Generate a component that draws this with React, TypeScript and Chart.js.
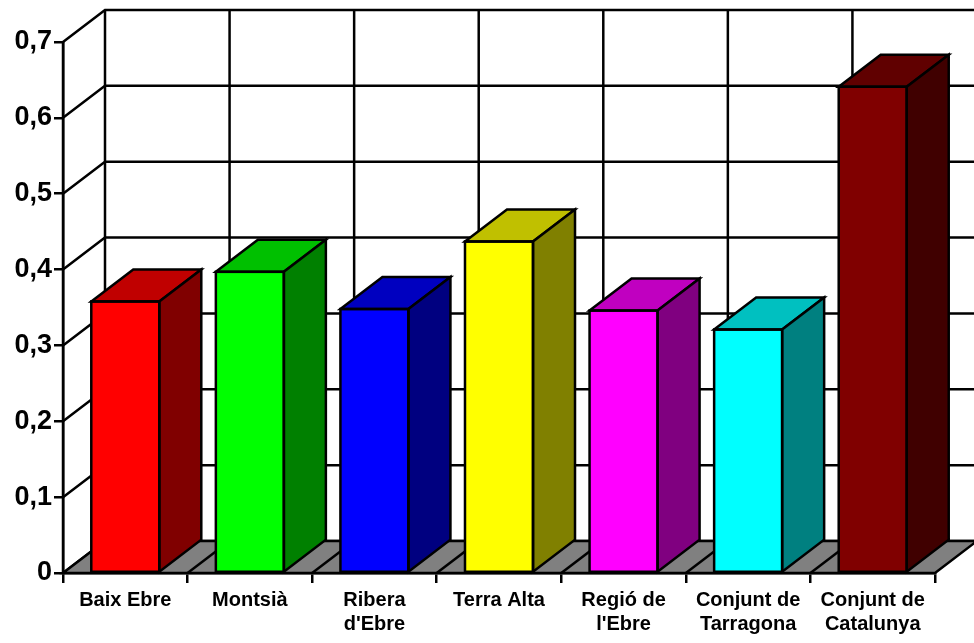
import React, { useEffect, useRef } from 'react';
import { Chart, registerables } from 'chart.js';

Chart.register(...registerables);

const categories: string[][] = [
  ['Baix Ebre'],
  ['Montsià'],
  ['Ribera', "d'Ebre"],
  ['Terra Alta'],
  ['Regió de', "l'Ebre"],
  ['Conjunt de', 'Tarragona'],
  ['Conjunt de', 'Catalunya'],
];
const values: number[] = [0.358, 0.397, 0.348, 0.437, 0.346, 0.321, 0.641];
const frontColors: string[] = ['#FF0000', '#00FF00', '#0000FF', '#FFFF00', '#FF00FF', '#00FFFF', '#800000'];
const topColors: string[] = ['#C00000', '#00C000', '#0000C0', '#C0C000', '#C000C0', '#00C0C0', '#600000'];
const sideColors: string[] = ['#800000', '#008000', '#000080', '#808000', '#800080', '#008080', '#400000'];
const yMin = 0;
const yMax = 0.7;
const yStep = 0.1;
const floorColor = '#808080';

const DX = 42;
const DY = 32;
const LW = 2.5;
const FONT = "'Liberation Sans', Arial, sans-serif";

const threeD = {
  id: 'threeD',
  beforeDatasetsDraw(chart: any) {
    const { ctx, chartArea, scales } = chart;
    const x = scales.x;
    const y = scales.y;
    const left = chartArea.left;
    const right = chartArea.right;
    const bottom = y.getPixelForValue(yMin);
    const top = y.getPixelForValue(yMax);
    const n = categories.length;
    ctx.save();
    ctx.strokeStyle = '#000';
    ctx.lineWidth = LW;
    ctx.lineCap = 'butt';
    for (const t of y.ticks) {
      const py = y.getPixelForValue(t.value);
      ctx.beginPath();
      ctx.moveTo(left, py);
      ctx.lineTo(left + DX, py - DY);
      ctx.lineTo(right + DX + 10, py - DY);
      ctx.stroke();
    }
    for (let i = 0; i <= n; i++) {
      const bx = x.getPixelForValue(i - 0.5) + DX;
      ctx.beginPath();
      ctx.moveTo(bx, top - DY);
      ctx.lineTo(bx, bottom - DY);
      ctx.stroke();
    }
    ctx.beginPath();
    ctx.moveTo(left, top);
    ctx.lineTo(left, bottom);
    ctx.stroke();
    ctx.beginPath();
    ctx.moveTo(left, bottom);
    ctx.lineTo(right, bottom);
    ctx.lineTo(right + DX, bottom - DY);
    ctx.lineTo(left + DX, bottom - DY);
    ctx.closePath();
    ctx.fillStyle = floorColor;
    ctx.fill();
    ctx.stroke();
    for (let i = 1; i < n; i++) {
      const bx = x.getPixelForValue(i - 0.5);
      ctx.beginPath();
      ctx.moveTo(bx, bottom);
      ctx.lineTo(bx + DX, bottom - DY);
      ctx.stroke();
    }
    ctx.restore();
  },
  afterDatasetsDraw(chart: any) {
    const { ctx } = chart;
    const meta = chart.getDatasetMeta(0);
    ctx.save();
    ctx.strokeStyle = '#000';
    ctx.lineWidth = LW;
    ctx.lineJoin = 'miter';
    meta.data.forEach((bar: any, i: number) => {
      const { x, y, base, width } = bar.getProps(['x', 'y', 'base', 'width'], true);
      const L = x - width / 2;
      const R = x + width / 2;
      ctx.beginPath();
      ctx.moveTo(L, y);
      ctx.lineTo(L + DX, y - DY);
      ctx.lineTo(R + DX, y - DY);
      ctx.lineTo(R, y);
      ctx.closePath();
      ctx.fillStyle = topColors[i];
      ctx.fill();
      ctx.stroke();
      ctx.beginPath();
      ctx.moveTo(R, y);
      ctx.lineTo(R + DX, y - DY);
      ctx.lineTo(R + DX, base - DY);
      ctx.lineTo(R, base);
      ctx.closePath();
      ctx.fillStyle = sideColors[i];
      ctx.fill();
      ctx.stroke();
      ctx.strokeRect(L, y, width, base - y);
    });
    ctx.restore();
  },
};

export default function App() {
  const ref = useRef<HTMLCanvasElement | null>(null);
  useEffect(() => {
    if (!ref.current) return;
    const chart = new Chart(ref.current, {
      type: 'bar',
      data: {
        labels: categories,
        datasets: [
          {
            data: values,
            backgroundColor: frontColors,
            borderColor: '#000',
            borderWidth: 0,
            barPercentage: 0.546,
            categoryPercentage: 1,
          },
        ],
      },
      options: {
        responsive: false,
        animation: false,
        devicePixelRatio: 1,
        layout: { padding: { top: 42, right: 39, left: 0, bottom: 0 } },
        plugins: {
          legend: { display: false },
          tooltip: { enabled: false },
          title: { display: false },
        },
        scales: {
          x: {
            offset: true,
            grid: {
              offset: true,
              drawOnChartArea: false,
              drawTicks: true,
              tickLength: 10,
              color: '#000',
              lineWidth: LW,
            },
            border: { display: true, color: '#000', width: LW },
            ticks: {
              color: '#000',
              font: { family: FONT, size: 20, weight: 'bold', lineHeight: 1.2 },
              padding: 5,
              maxRotation: 0,
              autoSkip: false,
            },
            afterFit: (scale: any) => {
              scale.height = 70;
            },
          },
          y: {
            min: yMin,
            max: yMax,
            grid: {
              drawOnChartArea: false,
              drawTicks: true,
              tickLength: 9,
              color: '#000',
              lineWidth: LW,
            },
            border: { display: true, color: '#000', width: LW },
            ticks: {
              stepSize: yStep,
              color: '#000',
              font: { family: FONT, size: 27, weight: 'bold' },
              padding: 2,
              callback: (v: any) => (Number(v) === 0 ? '0' : Number(v).toFixed(1).replace('.', ',')),
            },
            afterFit: (scale: any) => {
              scale.width = 63;
            },
          },
        },
      },
      plugins: [threeD],
    });
    return () => chart.destroy();
  }, []);
  return (
    <div style={{ position: 'absolute', left: 0, top: 0, width: 974, height: 643, background: '#fff' }}>
      <canvas ref={ref} width={974} height={643} />
    </div>
  );
}
